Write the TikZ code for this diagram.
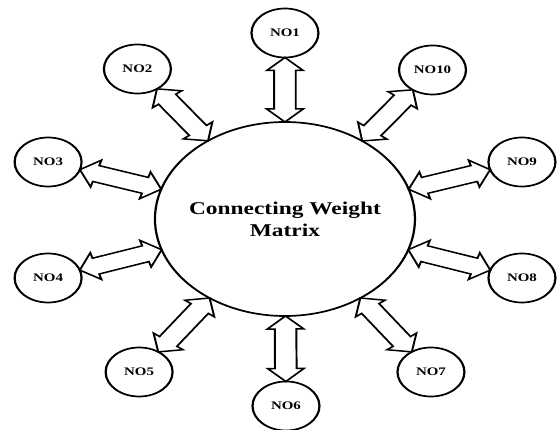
\documentclass[tikz,border=0pt]{standalone}
\usepackage{fontspec}
\setmainfont{Liberation Serif}
\usetikzlibrary{calc,shapes.geometric}
\tikzset{
  hub/.style={ellipse, draw, line width=1.7pt, minimum width=200pt, minimum height=194pt, inner sep=0pt, outer sep=0pt},
  hubtext/.style={align=center, inner sep=0pt, font=\fontsize{18}{22}\selectfont\bfseries},
  member/.style={ellipse, draw, line width=1.7pt, minimum width=51.5pt, minimum height=49pt, inner sep=0pt, outer sep=0pt, font=\fontsize{11.5}{13}\selectfont\bfseries},
  linkarrow/.style={draw, line width=1.5pt, line join=miter, fill=white},
}
\def\ahead{13pt}
\def\awide{14pt}
\def\ashaft{8.3pt}
\newcommand\twoway[2]{%
  \path (#1) -- coordinate[pos=0] (#1-s) coordinate[pos=1] (#1-t) (#2);
  \draw[linkarrow] (#1-s)
   -- ($(#1-s)!\ahead!(#1-t)!\awide!90:(#1-t)$)
   -- ($(#1-s)!\ahead!(#1-t)!\ashaft!90:(#1-t)$)
   -- ($(#1-t)!\ahead!(#1-s)!\ashaft!-90:(#1-s)$)
   -- ($(#1-t)!\ahead!(#1-s)!\awide!-90:(#1-s)$)
   -- (#1-t)
   -- ($(#1-t)!\ahead!(#1-s)!\awide!90:(#1-s)$)
   -- ($(#1-t)!\ahead!(#1-s)!\ashaft!90:(#1-s)$)
   -- ($(#1-s)!\ahead!(#1-t)!\ashaft!-90:(#1-t)$)
   -- ($(#1-s)!\ahead!(#1-t)!\awide!-90:(#1-t)$)
   -- cycle;}
\begin{document}
\begin{tikzpicture}[x=1pt,y=-1pt]
\fill[white] (0,0) rectangle (557,430);
\useasboundingbox (0,0) rectangle (557,430);
\begin{scope}[overlay, transform canvas={xscale=1.3}]
 \node[hub] (c) at (219.2,219) {};
 \node[hubtext] (ct) at (c) {Connecting Weight\\Matrix};
 \node[member] (n1) at (219.2,33) {NO1};
 \node[member] (n2) at (105.7,69) {NO2};
 \node[member] (n3) at (37,162) {NO3};
 \node[member] (n4) at (37,278) {NO4};
 \node[member] (n5) at (107,372) {NO5};
 \node[member] (n6) at (220,406) {NO6};
 \node[member] (n7) at (331.5,372) {NO7};
 \node[member] (n8) at (401.5,278) {NO8};
 \node[member] (n9) at (401.5,162) {NO9};
 \node[member] (n10) at (332.7,70) {NO10};
 \foreach \k in {1,...,10} {\twoway{n\k}{c}}
\end{scope}
\end{tikzpicture}
\end{document}
